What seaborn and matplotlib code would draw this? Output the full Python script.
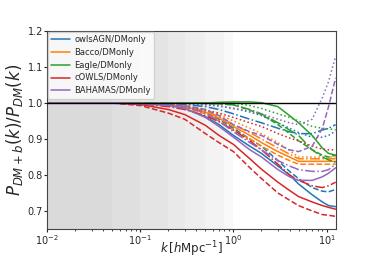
import numpy as np
import matplotlib
matplotlib.use('Agg')
import matplotlib.pyplot as plt
import seaborn as sns

k = [0.01, 0.03, 0.05, 0.1, 0.2, 0.3, 0.5, 0.7, 1.0, 1.5, 2.0, 3.0, 4.0, 5.0, 7.0, 9.0, 10.5, 12.5]

# solid, dashed, dotted, dashdot
owlsagn = [
    [1, 1, 1, 0.999, 0.995, 0.985, 0.962, 0.94, 0.91, 0.88, 0.86, 0.825, 0.80, 0.775, 0.745, 0.725, 0.715, 0.712],
    [1, 1, 1, 0.999, 0.996, 0.99, 0.975, 0.955, 0.93, 0.9, 0.88, 0.84, 0.81, 0.79, 0.765, 0.755, 0.753, 0.76],
    [1, 1, 1, 1.0, 1.0, 0.998, 0.995, 0.992, 0.985, 0.975, 0.965, 0.945, 0.93, 0.918, 0.905, 0.905, 0.91, 0.922],
    [1, 1, 1, 1.0, 0.999, 0.996, 0.99, 0.982, 0.97, 0.955, 0.945, 0.93, 0.92, 0.915, 0.915, 0.925, 0.93, 0.94],
]
bacco = [
    [1, 1, 1, 0.999, 0.995, 0.99, 0.975, 0.958, 0.935, 0.91, 0.89, 0.865, 0.85, 0.838, 0.838, 0.838, 0.838, 0.838],
    [1, 1, 1, 0.999, 0.994, 0.988, 0.97, 0.95, 0.925, 0.9, 0.88, 0.855, 0.84, 0.83, 0.83, 0.83, 0.83, 0.83],
    [1, 1, 1, 1.0, 0.997, 0.993, 0.982, 0.968, 0.95, 0.93, 0.915, 0.89, 0.868, 0.85, 0.85, 0.85, 0.85, 0.85],
    [1, 1, 1, 0.999, 0.996, 0.991, 0.978, 0.962, 0.94, 0.918, 0.9, 0.875, 0.858, 0.845, 0.845, 0.845, 0.845, 0.845],
]
eagle = [
    [1, 1, 1, 1.0, 1.0, 1.0, 1.0, 1.002, 1.003, 1.003, 1.001, 0.99, 0.965, 0.945, 0.91, 0.875, 0.86, 0.855],
    [1, 1, 1, 1.0, 1.0, 1.0, 0.999, 0.998, 0.995, 0.98, 0.968, 0.94, 0.915, 0.895, 0.87, 0.855, 0.85, 0.855],
    [1, 1, 1, 1.0, 1.0, 1.0, 1.0, 1.0, 1.0, 0.993, 0.985, 0.97, 0.96, 0.95, 0.935, 0.93, 0.928, 0.926],
    [1, 1, 1, 1.0, 1.0, 1.0, 0.999, 0.998, 0.995, 0.982, 0.97, 0.945, 0.925, 0.91, 0.87, 0.85, 0.842, 0.835],
]
cowls = [
    [1, 1, 1, 0.996, 0.982, 0.968, 0.938, 0.91, 0.885, 0.845, 0.816, 0.78, 0.757, 0.74, 0.725, 0.715, 0.71, 0.705],
    [1, 1, 1, 0.993, 0.972, 0.955, 0.915, 0.89, 0.865, 0.82, 0.79, 0.75, 0.73, 0.715, 0.70, 0.69, 0.688, 0.685],
    [1, 1, 1, 0.999, 0.995, 0.99, 0.98, 0.972, 0.96, 0.945, 0.935, 0.915, 0.903, 0.895, 0.88, 0.872, 0.87, 0.87],
    [1, 1, 1, 0.998, 0.99, 0.982, 0.965, 0.948, 0.925, 0.895, 0.87, 0.83, 0.80, 0.785, 0.77, 0.765, 0.77, 0.78],
]
bahamas = [
    [1, 1, 1, 0.998, 0.993, 0.985, 0.96, 0.935, 0.905, 0.87, 0.85, 0.815, 0.795, 0.785, 0.785, 0.795, 0.805, 0.82],
    [1, 1, 1, 0.999, 0.997, 0.993, 0.982, 0.965, 0.94, 0.92, 0.91, 0.885, 0.87, 0.865, 0.88, 0.93, 0.99, 1.07],
    [1, 1, 1, 1.0, 1.0, 0.999, 0.996, 0.992, 0.985, 0.977, 0.97, 0.955, 0.945, 0.94, 0.955, 1.015, 1.06, 1.13],
    [1, 1, 1, 0.999, 0.995, 0.99, 0.972, 0.95, 0.92, 0.89, 0.87, 0.84, 0.825, 0.815, 0.81, 0.81, 0.815, 0.83],
]

labels = ['owlsAGN/DMonly', 'Bacco/DMonly', 'Eagle/DMonly', 'cOWLS/DMonly', 'BAHAMAS/DMonly']
sims = [owlsagn, bacco, eagle, cowls, bahamas]
styles = ['-', '--', ':', '-.']
shade_edges = [0.05, 0.1, 0.2, 0.3, 0.5, 0.8, 1.0]

sns.set_style('white')
plt.rcParams['font.family'] = ['DejaVu Sans']
colors = sns.color_palette('tab10', 5)

fig = plt.figure(figsize=(3.74, 2.59), dpi=100)
ax = fig.add_axes([0.126, 0.116, 0.772, 0.764])

# stacked grey bands at low k
for kmax in shade_edges:
    ax.axvspan(0.01, kmax, color='gray', alpha=0.045, lw=0)

for sim, lab, c in zip(sims, labels, colors):
    for vals, ls in zip(sim, styles):
        sns.lineplot(x=k, y=vals, color=c, linestyle=ls, lw=1.1, ax=ax,
                     label=lab if ls == '-' else None)

ax.axhline(1.0, color='k', lw=1.0, zorder=6)

ax.set_xscale('log')
ax.set_xlim(0.01, 4 * np.pi)
ax.set_ylim(0.65, 1.2)
ax.set_yticks([0.7, 0.8, 0.9, 1.0, 1.1, 1.2])
ax.tick_params(labelsize=7, length=2.5, direction='out', left=True, bottom=True, pad=0.5)
ax.tick_params(which='minor', length=1.5, bottom=True)
ax.set_xlabel(r'$k\,[h\mathrm{Mpc}^{-1}]$', fontsize=8.5)
ax.xaxis.set_label_coords(0.5, -0.055)
ax.set_ylabel(r'$P_{DM+b}(k)/P_{DM}(k)$', fontsize=12, labelpad=2)
for s in ax.spines.values():
    s.set_color('#444444')
    s.set_linewidth(0.8)

ax.legend(loc='upper left', fontsize=6.0, frameon=True, borderaxespad=0.1,
          handlelength=2.2, labelspacing=0.45, borderpad=0.4, handletextpad=0.6)

plt.savefig('out.png', dpi=100)
